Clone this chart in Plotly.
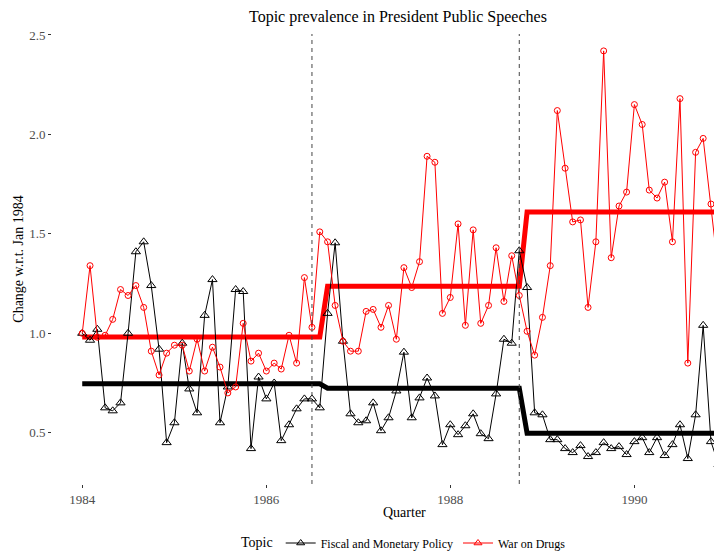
import pandas as pd
import plotly.graph_objects as go

# Monthly topic prevalence relative to January 1984
fiscal_policy = [
    1.00, 0.965, 1.02, 0.625, 0.61, 0.65, 1.00, 1.41, 1.46, 1.24,
    0.92, 0.45, 0.55, 0.95, 0.72, 0.60, 1.09, 1.27, 0.55, 0.73,
    1.22, 1.21, 0.42, 0.78, 0.67, 0.75, 0.46, 0.54, 0.62, 0.67,
    0.67, 0.625, 1.10, 1.455, 0.96, 0.595, 0.55, 0.56, 0.65, 0.51,
    0.575, 0.71, 0.905, 0.575, 0.675, 0.775, 0.685, 0.44, 0.54, 0.49,
    0.535, 0.595, 0.495, 0.47, 0.695, 0.97, 0.95, 1.415, 1.23, 0.60,
    0.59, 0.465, 0.465, 0.42, 0.40, 0.435, 0.38, 0.40, 0.45, 0.42,
    0.43, 0.39, 0.455, 0.475, 0.40, 0.475, 0.385, 0.44, 0.54, 0.37,
    0.59, 1.04, 0.455, 0.34,
]
war_on_drugs = [
    1.00, 1.34, 0.98, 0.99, 1.07, 1.22, 1.19, 1.24, 1.13, 0.91,
    0.79, 0.90, 0.94, 0.94, 0.81, 0.97, 0.81, 0.93, 0.83, 0.70,
    0.73, 1.05, 0.86, 0.90, 0.81, 0.85, 0.82, 0.99, 0.85, 1.28,
    1.03, 1.51, 1.46, 1.14, 0.96, 0.91, 0.91, 1.11, 1.12, 1.03,
    1.14, 0.97, 1.33, 1.23, 1.36, 1.89, 1.86, 1.10, 1.18, 1.55,
    1.04, 1.52, 1.05, 1.14, 1.43, 1.16, 1.39, 1.19, 1.01, 0.89,
    1.08, 1.34, 2.12, 1.83, 1.56, 1.57, 1.13, 1.46, 2.42, 1.38,
    1.64, 1.71, 2.15, 2.05, 1.72, 1.68, 1.76, 1.46, 2.18, 0.85,
    1.91, 1.98, 1.65, 1.30,
]

months = pd.date_range("1984-01-01", periods=len(war_on_drugs), freq="MS")

# Segmented fit: level per regime, regimes starting at these months
segment_starts = ["1984-01-01", "1986-09-01", "1988-11-01"]
segment_ends = ["1986-08-01", "1988-10-01", str(months[-1].date())]
fit_fiscal = [0.746, 0.724, 0.497]
fit_drugs = [0.981, 1.236, 1.610]

# Policy events
events = ["1986-07-01", "1988-10-01"]

x_ticks = ["1984-01-01", "1986-01-01", "1988-01-01", "1990-01-01"]
x_tick_text = ["1984", "1986", "1988", "1990"]
y_ticks = [0.5, 1.0, 1.5, 2.0, 2.5]

FONT = "Liberation Serif, Times New Roman, serif"
BLACK = "#000000"
RED = "#FF0000"


def step_xy(levels):
    xs, ys = [], []
    for s, e, v in zip(segment_starts, segment_ends, levels):
        xs += [s, e]
        ys += [v, v]
    return xs, ys


fig = go.Figure()

for levels, color in [(fit_fiscal, BLACK), (fit_drugs, RED)]:
    fx, fy = step_xy(levels)
    fig.add_trace(go.Scatter(
        x=fx, y=fy, mode="lines", showlegend=False, hoverinfo="skip",
        line=dict(color=color, width=5),
    ))

fig.add_trace(go.Scatter(
    x=months, y=fiscal_policy, mode="lines+markers", showlegend=False,
    name="Fiscal and Monetary Policy",
    line=dict(color=BLACK, width=1),
    marker=dict(symbol="triangle-up-open", size=8, color=BLACK, line=dict(width=1)),
))
fig.add_trace(go.Scatter(
    x=months, y=war_on_drugs, mode="lines+markers", showlegend=False,
    name="War on Drugs",
    line=dict(color=RED, width=1),
    marker=dict(symbol="circle-open", size=6, color=RED, line=dict(width=1)),
))

# Legend keys
for name, color in [("Fiscal and Monetary Policy", BLACK), ("War on Drugs", RED)]:
    fig.add_trace(go.Scatter(
        x=[None], y=[None], mode="lines+markers", name=name,
        line=dict(color=color, width=1),
        marker=dict(symbol="triangle-up-open", size=7, color=color, line=dict(width=1)),
    ))

for ev in events:
    fig.add_shape(
        type="line", xref="x", yref="paper", x0=ev, x1=ev, y0=0, y1=1,
        line=dict(color="#444444", width=1, dash="4px,4px"),
    )

fig.add_annotation(
    text="Topic prevalence in President Public Speeches",
    xref="paper", yref="paper", x=(398 - 52) / 662, y=1, yshift=6,
    xanchor="center", yanchor="bottom", showarrow=False,
    font=dict(family=FONT, size=16, color=BLACK),
)
fig.add_annotation(
    text="Quarter", xref="paper", yref="paper", x=(404 - 52) / 662, y=0,
    yshift=-19, xanchor="center", yanchor="top", showarrow=False,
    font=dict(family=FONT, size=14, color=BLACK),
)

fig.update_layout(
    width=714, height=553,
    margin=dict(l=52, r=0, t=34, b=69, autoexpand=False),
    paper_bgcolor="white", plot_bgcolor="white",
    font=dict(family=FONT, color=BLACK),
    xaxis=dict(
        range=["1983-09-03", "1990-11-13"],
        tickvals=x_ticks, ticktext=x_tick_text,
        showgrid=False, zeroline=False, showline=False,
        ticks="outside", ticklen=3, tickcolor="#333333",
        tickfont=dict(family=FONT, size=13, color="#4D4D4D"),
    ),
    yaxis=dict(
        range=[0.242, 2.505],
        tickvals=y_ticks, ticktext=[f"{v:.1f}" for v in y_ticks],
        showgrid=False, zeroline=False, showline=False,
        ticks="outside", ticklen=3, tickcolor="#333333",
        tickfont=dict(family=FONT, size=13, color="#4D4D4D"),
        title=dict(text="Change w.r.t. Jan 1984", standoff=2,
                   font=dict(family=FONT, size=14, color=BLACK)),
    ),
    legend=dict(
        orientation="h", x=(405 - 52) / 662, xanchor="center",
        y=-59 / 450, yanchor="middle",
        title=dict(text="Topic", font=dict(family=FONT, size=14, color=BLACK)),
        font=dict(family=FONT, size=12, color=BLACK),
        itemwidth=30,
    ),
)

fig.write_html("out.html")
